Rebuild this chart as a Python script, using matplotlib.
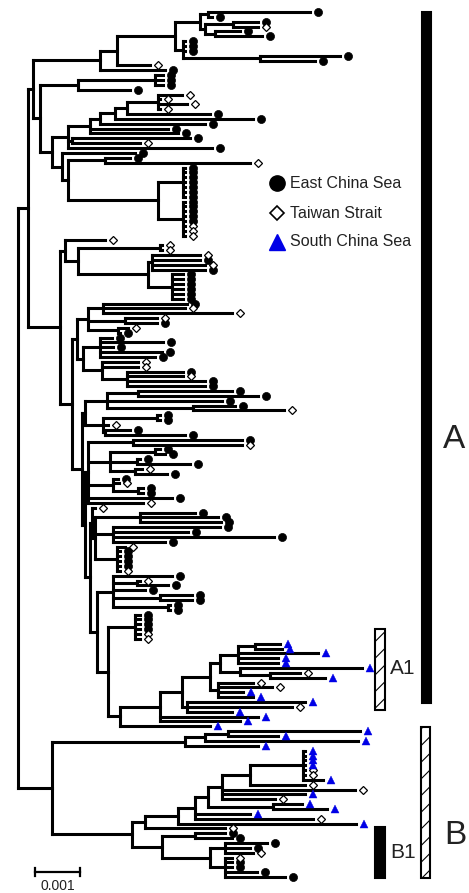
import re
import matplotlib
matplotlib.use("Agg")
import matplotlib.pyplot as plt
from matplotlib.collections import LineCollection
from matplotlib.patches import Rectangle

plt.rcParams['font.family'] = ['Liberation Sans', 'DejaVu Sans']
plt.rcParams['hatch.linewidth'] = 0.8

# ---------------- data ----------------
# Branch lengths are in units of 1e-4 substitutions/site.
# Tip codes: E = East China Sea, T = Taiwan Strait, S = South China Sea.
# "X*n:len" means n sister tips of type X with the same branch length.
UNIT = 1e-4
SCALE_BAR = 0.001
REGION_CODES = ["E", "T", "S"]
REGION_NAMES = ["East China Sea", "Taiwan Strait", "South China Sea"]

# clade A, upper part
C100 = "(((((E:22.7,E:0.9):1.8,((E:5.5,T:5.5):6.2,(E:5.5,E:10.4):2.2):1.2):5.5,(E*3:0.4,(E:17.8,E:12.2):17.1):1.8):12.9,T:7.3):3.8,E:14.5):14.9"
C78 = "((E*3:1.8):17.1,E:11.6):8.4"
LADDER = "((((((T:5.3,T:0.5,T:6.5,T:0.5):6.9,E:18.5):2.6,E:30.6):3.4,E:23.4):2.2,E:17.3,E:19.6):4.9,(E:26.2,T:15.1):0.9,E:32):3.5"
C62 = "(E:16.2,((E:5.6,T:32.3):8.2,((E*7:0.4):5.6,(E*5:0.4,T*3:0.4):5.6):20):1.3):2.2"
# clade A, lower part
C65 = "(T:8.9,((T:0.4,T:0.4):18.3,((T:10.6,E:10.6,T:11.8,E:11.8):0.9,(E*6:2.5):5.3):15.6):2.9):1.1"
C77 = "(((E:18.7,T:18.2,T:28.7):3.3,(T:7.1,E:7.1):8.2,(T:2.2,E:0.4):6.6):2.5,((E:2.7,E:14,E:2.9,E:13.8,E:12.2):3.8,(T:8,T:8,(E:12.5,T:12.5,E:17.4,E:17.4):5.5):4.3):1.3):1.1"
C85A = "(((E:20.9,E:26.6):6.9,E:25.5,(E:9.3,T:20.2):19.1):4.9,((E*2:0.7):12,T:1.1,(E:5.6,E:17.8):0.4):4):0.7"
H1 = "((E:24.2,T:24.2):10,((E:1.2,E:2.3):10,(E:0.7,E:11.8):6,(T:1.6,E:7.1):5.6):4.8,(E:1.1,T:1.3,(E:1.1,E:1.1):5.6):5.5,E:18.6,T:12.2):0.7"
H2A = "(T:0.7,((E:12.2,E:17.3,E:18):10,(E:23.8,E:16.7,E:35.8,E:11.6):4,(T:1.8,E*4:0.7,T:0.7):4.9):0.7):0.4"
H2C = "(E:13.1,(T:0.7,E:6.9):5.3,E:7.1,(E:7.1,E:7.1):10.5,(E:0.5,E:0.5):12.2):3.5"
C135 = "(E*4:1.1,T*2:1.1):6"
CLADE_A1 = "(((((((S:5.5,S:6):3.8,S:17.8,S:8.9,S:8.9):4,(S:27.1,(T:6.7,S:12.2):6.7):4.4):2.2,(T:7.8,T:12,S:5.6,S:7.8):1.7):6.3,(S:26.2,T:23.3,S:10):1.2):4.8,S:21.7,S:17.7):8.9,S:20):2.7"
# clade B
B_TOP = "(((S:29.3,S:11.1):5.1,S:34):4.5,S:16.2):29.5"
C303 = "(S*4:0.4,T*2:0.4,S:4.5)"
C273 = "(S:6.4,S:12)"
CLADE_B1 = "((E:6.7,E:8.3):7.3,((E:9.3,E:5.6,T:6.2):3.3,(T:1.6,E:1.6,E:1.6,E:7.1,E:13.3):3.3):10.7)"

# assemble the tree
C52 = f"({LADDER},{C62}):2.7"
C40 = f"({C78},{C52}):1.6"
A_TOP = f"({C100},{C40}):1.1"
C108 = f"({C135},{CLADE_A1}):2.4"
H2B = f"({H2C},{C108}):1.6"
H2 = f"({H2A},{H2B}):1.1"
C85B = f"({H1},{H2}):0.7"
C82 = f"({C85A},{C85B}):2.2"
C72 = f"({C77},{C82}):2.7"
A_BOT = f"({C65},{C72}):7.1"
CLADE_A = f"({A_TOP},{A_BOT}):2.2"
C250 = f"({C303}:11.7,T:12.2)"
C222 = f"({C250}:6.3,T:29.6,S:18.5,T:11.8)"
C208 = f"({C222}:3.1,{C273}:14.5)"
C195 = f"({C208}:2.9,S:12.3,T:26.3)"
C178 = f"({C195}:3.7,S:39.4)"
C145 = f"({C178}:7.4,T:17.8)"
B_BOT = f"({C145}:2.9,{CLADE_B1}:6.7):17.7"
CLADE_B = f"({B_TOP},{B_BOT}):7.6"
TREE = f"({CLADE_A},{CLADE_B});"


# ---------------- parsing ----------------
def expand(s):
    return re.sub(r'([ETS])\*(\d+):([\d.]+)',
                  lambda m: ",".join([f"{m.group(1)}:{m.group(3)}"] * int(m.group(2))), s)


def parse(text):
    s = expand(text).strip().rstrip(';')
    pos = 0

    def node():
        nonlocal pos
        n = {'children': [], 'code': None, 'len': 0.0}
        if s[pos] == '(':
            pos += 1
            while True:
                n['children'].append(node())
                if s[pos] == ',':
                    pos += 1
                elif s[pos] == ')':
                    pos += 1
                    break
                else:
                    raise ValueError("bad newick at %d: %s" % (pos, s[pos:pos + 20]))
        else:
            n['code'] = s[pos]
            pos += 1
        if pos < len(s) and s[pos] == ':':
            m = re.match(r':([\d.]+)', s[pos:])
            n['len'] = float(m.group(1))
            pos += m.end()
        return n

    r = node()
    if pos != len(s):
        raise ValueError("trailing text: " + s[pos:])
    return r


root = parse(TREE)
leaves = []
segments = []


def layout(n, x0):
    n['x'] = x0 + n['len']
    if not n['children']:
        n['y'] = len(leaves)
        leaves.append(n)
    else:
        for c in n['children']:
            layout(c, n['x'])
        n['y'] = 0.5 * (n['children'][0]['y'] + n['children'][-1]['y'])


def collect(n, parent_x=None):
    if parent_x is not None:
        segments.append([(parent_x, n['y']), (n['x'], n['y'])])
    if n['children']:
        segments.append([(n['x'], n['children'][0]['y']), (n['x'], n['children'][-1]['y'])])
        for c in n['children']:
            collect(c, n['x'])


root['len'] = 0.0
layout(root, 0.0)
collect(root)
assert len(leaves) == 179, len(leaves)

# ---------------- figure ----------------
W, H = 469, 893
fig = plt.figure(figsize=(W / 100, H / 100), dpi=100)
ax = fig.add_axes([0, 0, 1, 1])
ax.axis('off')

PX_PER_UNIT = 4.5
ROOT_PX = 18
TOP_PX, BOTTOM_PX = 12, 877
n = len(leaves)
px_per_leaf = (BOTTOM_PX - TOP_PX) / (n - 1)
ax.set_xlim(-ROOT_PX / PX_PER_UNIT, (W - ROOT_PX) / PX_PER_UNIT)
ax.set_ylim((H - TOP_PX) / px_per_leaf, -TOP_PX / px_per_leaf)

lc = LineCollection(segments, colors='black', linewidths=2.2, capstyle='projecting')
ax.add_collection(lc)

off = 1.8
styles = {
    'E': dict(marker='o', ms=5.8, mfc='black', mec='black', mew=0.5),
    'T': dict(marker='D', ms=3.7, mfc='white', mec='black', mew=0.9),
    'S': dict(marker='^', ms=5.6, mfc='#0000e6', mec='#0000e6', mew=0.3),
}
for code in REGION_CODES:
    xs = [l['x'] + off for l in leaves if l['code'] == code]
    ys = [l['y'] for l in leaves if l['code'] == code]
    ax.plot(xs, ys, ls='none', zorder=3, **styles[code])


def fx(px):
    return px / W


def fy(py):
    return 1 - py / H


# legend
leg_styles = {
    'E': dict(marker='o', ms=11, mfc='black', mec='black'),
    'T': dict(marker='D', ms=7.5, mfc='white', mec='black', mew=1.2),
    'S': dict(marker='^', ms=11, mfc='#0000e6', mec='#0000e6'),
}
for code, name, py in zip(REGION_CODES, REGION_NAMES, [183, 213, 242]):
    ax.plot([fx(277)], [fy(py)], transform=ax.transAxes, ls='none', **leg_styles[code])
    ax.text(fx(290), fy(py), name, transform=ax.transAxes, fontsize=11.5,
            va='center', ha='left', color='#222222')


# clade bars
def bar(x0, x1, y0, y1, hatched):
    r = Rectangle((fx(x0), fy(y1)), fx(x1) - fx(x0), fy(y0) - fy(y1), transform=ax.transAxes,
                  facecolor='white' if hatched else 'black', edgecolor='black',
                  hatch='//' if hatched else None, linewidth=1.5)
    ax.add_patch(r)


bar(422, 431, 12, 703, False)
bar(375, 385, 629, 710, True)
bar(421, 430, 727, 878, True)
bar(375, 385, 827, 878, False)
ax.text(fx(454), fy(440), "A", transform=ax.transAxes, fontsize=24, ha='center', va='center', color='#222222')
ax.text(fx(390), fy(668), "A1", transform=ax.transAxes, fontsize=15, ha='left', va='center', color='#222222')
ax.text(fx(455), fy(835), "B", transform=ax.transAxes, fontsize=24, ha='center', va='center', color='#222222')
ax.text(fx(390), fy(853), "B1", transform=ax.transAxes, fontsize=15, ha='left', va='center', color='#222222')

# scale bar
sb_x0 = (35 - ROOT_PX) / PX_PER_UNIT
sb_len = SCALE_BAR / UNIT
sb_y = (872 - TOP_PX) / px_per_leaf
tick = 0.8
ax.plot([sb_x0, sb_x0 + sb_len], [sb_y, sb_y], color='black', lw=1.6)
ax.plot([sb_x0, sb_x0], [sb_y - tick, sb_y + tick], color='black', lw=1.6)
ax.plot([sb_x0 + sb_len, sb_x0 + sb_len], [sb_y - tick, sb_y + tick], color='black', lw=1.6)
ax.text(sb_x0 + sb_len / 2, (886 - TOP_PX) / px_per_leaf, f"{SCALE_BAR:g}", fontsize=10,
        ha='center', va='center', color='#222222')

fig.savefig("out.png", dpi=100)
